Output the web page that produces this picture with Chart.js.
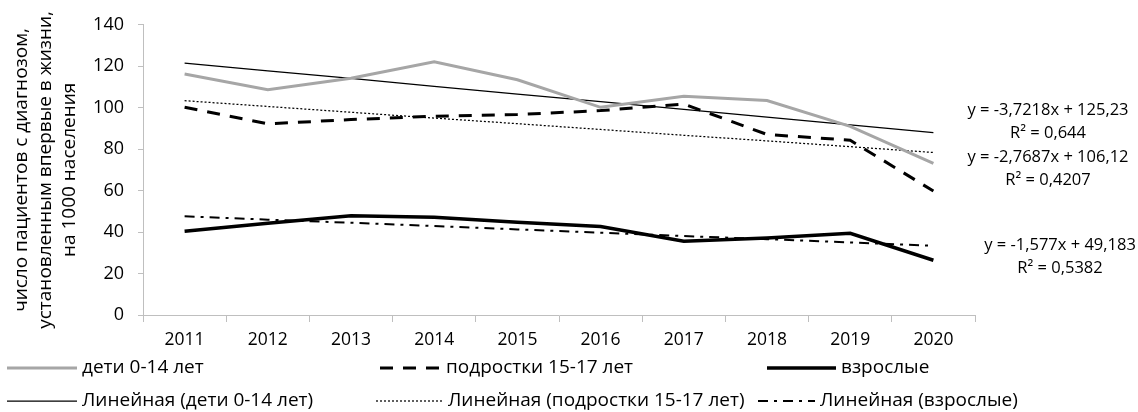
<!DOCTYPE html>
<html lang="ru">
<head>
<meta charset="utf-8">
<title>Число пациентов с диагнозом</title>
<script src="https://cdn.jsdelivr.net/npm/chart.js@4.4.0/dist/chart.umd.min.js"></script>
<style>
  html, body { margin: 0; padding: 0; background: #fff; }
  #wrap { width: 1138px; height: 412px; }
</style>
</head>
<body>
<div id="wrap"><canvas id="chart" width="1138" height="412"></canvas></div>
<script>
// годы
const years = ["2011", "2012", "2013", "2014", "2015", "2016", "2017", "2018", "2019", "2020"];

// ряды данных
const deti = [116.3, 108.7, 114.2, 122.2, 113.5, 100.2, 105.5, 103.5, 91.0, 73.2];
const podrostki = [100.2, 92.2, 94.3, 95.9, 96.7, 98.6, 101.8, 87.1, 84.3, 59.8];
const vzroslye = [40.4, 44.3, 47.9, 47.1, 44.7, 42.7, 35.6, 37.2, 39.4, 26.4];

// линии тренда
const trendDeti = [121.5, 117.8, 114.1, 110.3, 106.6, 102.9, 99.2, 95.5, 91.7, 88.0];
const trendPodrostki = [103.4, 100.6, 97.8, 95.0, 92.3, 89.5, 86.7, 84.0, 81.2, 78.4];
const trendVzroslye = [47.6, 46.0, 44.5, 42.9, 41.3, 39.7, 38.1, 36.6, 35.0, 33.4];

// подписи
const seriesLabels = [
    "дети 0-14 лет", "подростки 15-17 лет", "взрослые",
    "Линейная (дети 0-14 лет)", "Линейная (подростки 15-17 лет)", "Линейная (взрослые)"
];
const yTitle = ["число пациентов с диагнозом,", "установленным впервые в жизни,", "на 1000 населения"];
const equations = [
    ["y = -3,7218x + 125,23", "R² = 0,644"],
    ["y = -2,7687x + 106,12", "R² = 0,4207"],
    ["y = -1,577x + 49,183", "R² = 0,5382"]
];

const FONT = "'Open Sans', 'DejaVu Sans', sans-serif";

// положение легенды и подписей уравнений
const legendPos = [
    { x: 7, y: 368, w: 70 }, { x: 380, y: 368, w: 61 }, { x: 767, y: 368, w: 69 },
    { x: 7, y: 401, w: 70 }, { x: 376, y: 401, w: 67 }, { x: 758, y: 401, w: 57 }
];
const eqPos = [{ x: 1048, y: 110 }, { x: 1048, y: 157 }, { x: 1060, y: 245 }];

const extras = {
    id: "extras",
    afterDraw(chart) {
        const ctx = chart.ctx;
        ctx.save();
        ctx.textBaseline = "middle";
        ctx.fillStyle = "#000";
        ctx.font = "19px " + FONT;
        legendPos.forEach((p, i) => {
            const ds = chart.data.datasets[i];
            ctx.strokeStyle = ds.borderColor;
            ctx.lineWidth = ds.borderWidth;
            ctx.setLineDash(ds.borderDash || []);
            ctx.beginPath();
            ctx.moveTo(p.x, p.y);
            ctx.lineTo(p.x + p.w, p.y);
            ctx.stroke();
            ctx.setLineDash([]);
            ctx.textAlign = "left";
            ctx.fillText(ds.label, p.x + p.w + 5, p.y);
        });
        ctx.font = "16.5px " + FONT;
        ctx.textAlign = "center";
        eqPos.forEach((p, i) => {
            ctx.fillText(equations[i][0], p.x, p.y);
            ctx.fillText(equations[i][1], p.x, p.y + 23);
        });
        ctx.restore();
    }
};

function lineSet(label, data, color, width, dash) {
    return {
        label: label,
        data: data,
        borderColor: color,
        borderWidth: width,
        borderDash: dash,
        pointRadius: 0,
        fill: false,
        tension: 0,
    };
}

new Chart(document.getElementById("chart"), {
    type: "line",
    data: {
        labels: years,
        datasets: [
            lineSet(seriesLabels[0], deti, "#a6a6a6", 3, []),
            lineSet(seriesLabels[1], podrostki, "#000", 3, [13, 10]),
            lineSet(seriesLabels[2], vzroslye, "#000", 3.5, []),
            lineSet(seriesLabels[3], trendDeti, "#000", 1.25, []),
            lineSet(seriesLabels[4], trendPodrostki, "#000", 1.25, [2, 2]),
            lineSet(seriesLabels[5], trendVzroslye, "#000", 2, [10, 6, 3, 6]),
        ],
    },
    options: {
        responsive: false,
        animation: false,
        layout: { padding: { top: 23, right: 163, bottom: 0, left: 0 } },
        plugins: {
            legend: { display: false },
            tooltip: { enabled: false },
        },
        scales: {
            x: {
                offset: true,
                grid: {
                    offset: true,
                    drawOnChartArea: false,
                    tickLength: 7,
                    color: "#bfbfbf",
                },
                border: { color: "#bfbfbf" },
                ticks: { color: "#000", font: { family: FONT, size: 17.5 }, padding: 8, maxRotation: 0 },
                afterFit(scale) { scale.height = 97; },
            },
            y: {
                min: 0,
                max: 140,
                grid: {
                    drawOnChartArea: false,
                    tickLength: 5,
                    color: "#bfbfbf",
                },
                border: { color: "#bfbfbf" },
                ticks: { stepSize: 20, color: "#000", font: { family: FONT, size: 18 }, padding: 14 },
                title: {
                    display: true,
                    text: yTitle,
                    color: "#000",
                    font: { family: FONT, size: 19, lineHeight: 1.26 },
                    padding: { top: 10, bottom: 0 },
                },
                afterFit(scale) { scale.width = 143; },
            },
        },
    },
    plugins: [extras],
});
</script>
</body>
</html>
